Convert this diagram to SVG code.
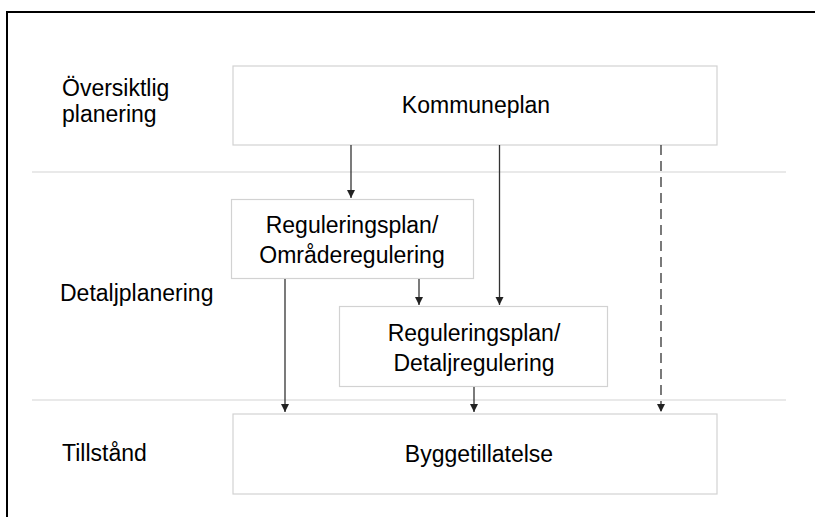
<svg xmlns="http://www.w3.org/2000/svg" width="815" height="517" viewBox="0 0 815 517">
  <style>
    .frame { stroke: #000; stroke-width: 2; fill: none; }
    .sep { stroke: #d4d4d4; stroke-width: 1.2; }
    .box { fill: #fff; stroke: #d2d2d2; stroke-width: 1.2; }
    .lbl { font-family: "Liberation Sans", Arial, sans-serif; font-size: 23px; fill: #000; }
    .mid { text-anchor: middle; }
    .edge { stroke: #333; stroke-width: 1.3; fill: none; marker-end: url(#arrow); }
    .dash { stroke-dasharray: 10 6; }
  </style>
  <defs>
    <marker id="arrow" markerWidth="9" markerHeight="9" refX="8" refY="4.5" orient="auto" markerUnits="userSpaceOnUse">
      <path d="M0,0.5 L8,4.5 L0,8.5 Z" fill="#222"/>
    </marker>
  </defs>

  <rect width="815" height="517" fill="#fff"/>

  <!-- outer frame (top and left edges) -->
  <path class="frame" d="M7,517 V12 H815"/>

  <!-- level separators -->
  <line class="sep" x1="32" y1="172" x2="786" y2="172"/>
  <line class="sep" x1="32" y1="400" x2="786" y2="400"/>

  <!-- level labels -->
  <g id="level-oversiktlig">
    <text class="lbl" x="62" y="96">Översiktlig</text>
    <text class="lbl" x="62" y="122">planering</text>
  </g>
  <g id="level-detalj">
    <text class="lbl" x="60" y="301">Detaljplanering</text>
  </g>
  <g id="level-tillstand">
    <text class="lbl" x="62" y="461">Tillstånd</text>
  </g>

  <!-- nodes -->
  <g id="kommuneplan">
    <rect class="box" x="233" y="66" width="484" height="79"/>
    <text class="lbl mid" x="476" y="113">Kommuneplan</text>
  </g>
  <g id="omraderegulering">
    <rect class="box" x="231.5" y="199.5" width="242" height="79"/>
    <text class="lbl mid" x="352" y="233">Reguleringsplan/</text>
    <text class="lbl mid" x="352" y="263">Områderegulering</text>
  </g>
  <g id="detaljregulering">
    <rect class="box" x="339.5" y="306.5" width="268" height="80"/>
    <text class="lbl mid" x="474" y="341">Reguleringsplan/</text>
    <text class="lbl mid" x="474" y="371">Detaljregulering</text>
  </g>
  <g id="byggetillatelse">
    <rect class="box" x="233" y="414" width="484" height="80"/>
    <text class="lbl mid" x="479" y="462">Byggetillatelse</text>
  </g>

  <!-- connectors -->
  <g id="connectors">
    <line class="edge" x1="351" y1="145" x2="351" y2="198"/>
    <line class="edge" x1="499.5" y1="145" x2="499.5" y2="305"/>
    <line class="edge dash" x1="661" y1="145" x2="661" y2="412"/>
    <line class="edge" x1="285" y1="279" x2="285" y2="412"/>
    <line class="edge" x1="419" y1="279" x2="419" y2="305"/>
    <line class="edge" x1="474" y1="387" x2="474" y2="412"/>
  </g>
</svg>
